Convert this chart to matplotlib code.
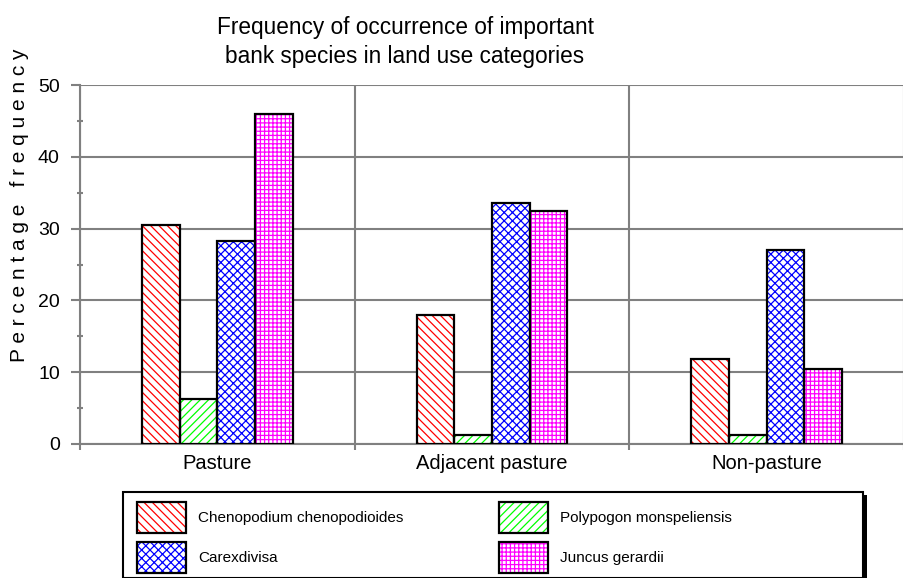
import matplotlib
matplotlib.use("Agg")
import matplotlib.pyplot as plt
import numpy as np
from matplotlib.patches import Rectangle, Patch
from matplotlib.legend_handler import HandlerTuple

plt.rcParams['font.family'] = ['Liberation Sans', 'DejaVu Sans']
plt.rcParams['hatch.linewidth'] = 0.9

categories = ["Pasture", "Adjacent pasture", "Non-pasture"]
species = ["Chenopodium chenopodioides", "Polypogon monspeliensis", "Carex divisa", "Juncus gerardii"]
chenopodium = [30.5, 18.0, 11.8]
polypogon = [6.3, 1.2, 1.2]
carex = [28.3, 33.6, 27.0]
juncus = [46.0, 32.5, 10.5]
series = [chenopodium, polypogon, carex, juncus]
colors = ["#ff0000", "#00ff00", "#0000ff", "#ff00ff"]
hatches = ["\\\\\\\\", "////", "xxxx", "++++"]
legend_labels = ["Chenopodium chenopodioides", "Polypogon monspeliensis", "Carexdivisa", "Juncus gerardii"]

W, H = 904, 578
fig = plt.figure(figsize=(W/100, H/100), dpi=100)
ax = fig.add_axes([80/W, 1-444/H, 1-80/W, (444-85)/H])

grey = "#808080"
x = np.arange(len(categories))
bw = 0.137
offsets = (np.arange(4) - 1.5) * bw
for i, vals in enumerate(series):
    ax.bar(x + offsets[i], vals, bw, facecolor="white", edgecolor=colors[i],
           hatch=hatches[i], linewidth=0, zorder=3)
    ax.bar(x + offsets[i], vals, bw, fill=False, edgecolor="black",
           linewidth=1.6, zorder=4)

ax.set_ylim(0, 50)
ax.set_xlim(-0.5, -0.5 + (W-80)/276.5)
ax.set_yticks(np.arange(0, 51, 10))
ax.set_yticks(np.arange(5, 50, 10), minor=True)
ax.tick_params(axis='y', which='major', direction='out', length=6.5, width=1.5,
               color=grey, labelsize=14, pad=8)
ax.tick_params(axis='y', which='minor', direction='inout', length=4.5, width=1.5, color=grey)
ax.set_xticks([-0.5, 0.5, 1.5, 2.5])
ax.set_xticklabels([])
ax.set_xticks(x, minor=True)
ax.set_xticklabels(categories, minor=True)
ax.tick_params(axis='x', which='major', direction='out', length=4.5, width=1.5, color=grey)
ax.tick_params(axis='x', which='minor', length=0, labelsize=14.5, pad=7)

ax.grid(True, axis='both', which='major', color=grey, linewidth=1.5, zorder=0)
ax.set_axisbelow(True)
for s in ['top', 'right']:
    ax.spines[s].set_visible(False)
for s in ['left', 'bottom']:
    ax.spines[s].set_color(grey)
    ax.spines[s].set_linewidth(1.5)

fig.text(405/W, 1-42/H, "Frequency of occurrence of important\nbank species in land use categories",
         ha='center', va='center', fontsize=16.3, linespacing=1.3)
fig.text(20/W, 1-205/H, "P e r c e n t a g e   f r e q u e n c y", rotation=90,
         ha='center', va='center', fontsize=15)

# legend frame and shadow
fig.add_artist(Rectangle((123/W, 0), (863-123)/W, 1-492/H, transform=fig.transFigure,
                         facecolor='white', edgecolor='black', linewidth=1.5, zorder=1))
fig.add_artist(Rectangle((863/W, 0), 4/W, 1-495/H, transform=fig.transFigure,
                         facecolor='black', edgecolor='none', zorder=1))

handles = []
for i in range(4):
    hp = Patch(facecolor='white', edgecolor=colors[i], hatch=hatches[i], linewidth=0)
    bp = Patch(fill=False, edgecolor='black', linewidth=1.6)
    handles.append((hp, bp))
order = [0, 2, 1, 3]
fs_px = 11 * 100 / 72
leg = fig.legend([handles[i] for i in order], [legend_labels[i] for i in order],
                 ncol=2, loc='upper left', bbox_to_anchor=(137/W, 1-502/H),
                 frameon=False, borderpad=0, borderaxespad=0, fontsize=11,
                 handler_map={tuple: HandlerTuple(ndivide=1, pad=0)},
                 handlelength=49/fs_px, handleheight=2.75, handletextpad=12/fs_px,
                 labelspacing=9/fs_px, columnspacing=96/fs_px)
leg.set_zorder(5)

fig.savefig("out.png", dpi=100)
